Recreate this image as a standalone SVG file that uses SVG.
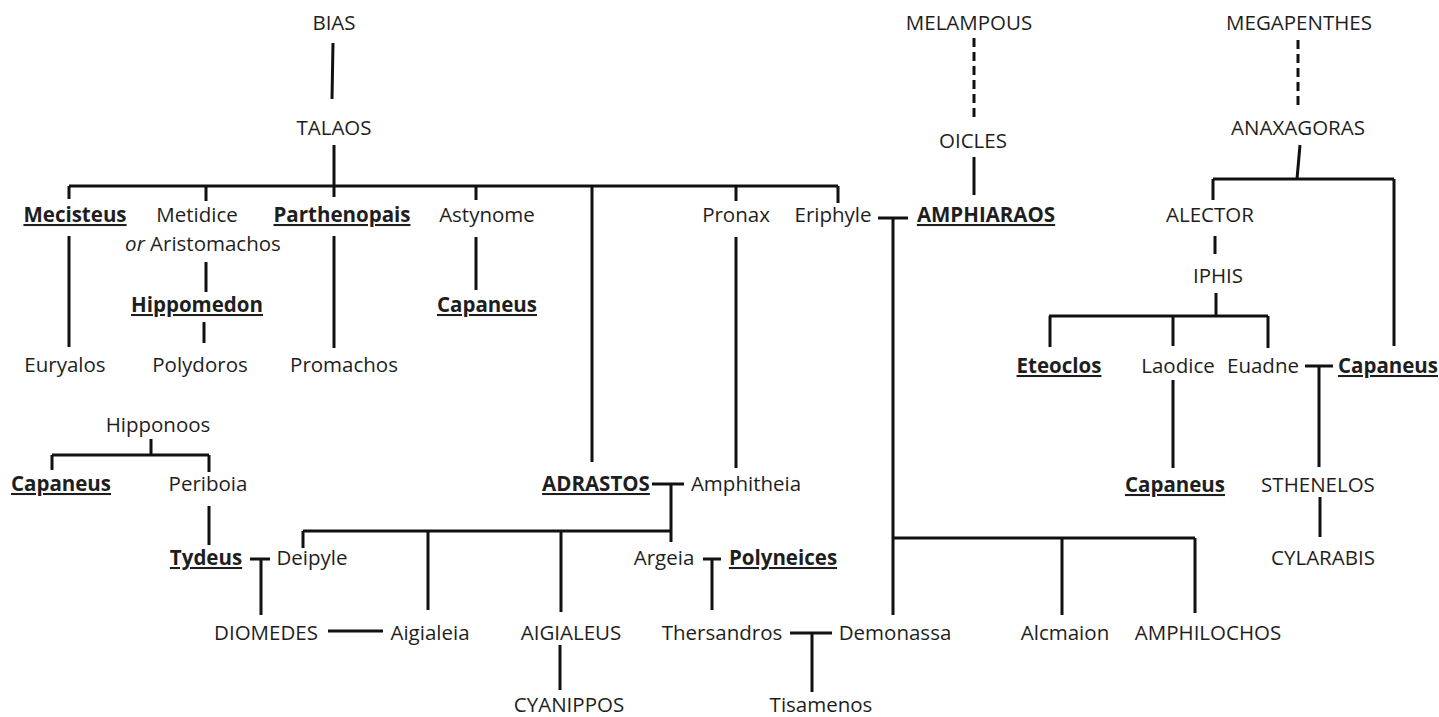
<svg xmlns="http://www.w3.org/2000/svg" width="1439" height="717" viewBox="0 0 1439 717">
<style>
text{font-family:"Open Sans","Liberation Sans",sans-serif;font-size:20.5px;fill:#1e1e1e;text-anchor:middle}
.b{font-weight:bold;text-decoration:underline}
.i{font-style:italic}
#connectors path{fill:none;stroke:#111;stroke-width:3}
#connectors path.d{stroke-dasharray:9 5}
</style>
<rect width="1439" height="717" fill="#fff"/>
<g id="connectors">
<path d="M333 43 L332 99"/>
<path d="M334 145 V197"/>
<path d="M69 186 H838"/>
<path d="M69 186 V199 M206 186 V201 M476 186 V200 M592 186 V462 M736 186 V201 M838 186 V203"/>
<path d="M69 236 V347"/>
<path d="M206 262 V292"/>
<path d="M204 322 V343"/>
<path d="M334 236 V348"/>
<path d="M476 237 V290"/>
<path d="M736 237 V468"/>
<path d="M878 218 H908 M893 218 V615 M892 538 H1195 M1062 538 V615 M1195 538 V613"/>
<path class="d" d="M974 38 V117"/>
<path d="M974 157 V195"/>
<path class="d" d="M1298 40 V105"/>
<path d="M1300 145 L1297 179 M1213 179 H1394 M1213 179 V200 M1394 179 V346"/>
<path d="M1215 236 V254"/>
<path d="M1216 293 V316 M1049 316 H1268 M1050 316 V347 M1173 316 V346 M1268 316 V348"/>
<path d="M1305 366 H1333 M1319 366 V467"/>
<path d="M1173 380 V468"/>
<path d="M1320 497 V537"/>
<path d="M151 439 V455 M52 455 H209 M52 455 V470 M209 455 V472"/>
<path d="M209 506 V545"/>
<path d="M652 484 H684 M671 484 V542 M303 531 H671 M303 531 V548 M428 531 V610 M561 531 V612"/>
<path d="M250 559 H270 M261 559 V615"/>
<path d="M328 631 H383"/>
<path d="M703 559 H721 M712 559 V610"/>
<path d="M560 645 V690"/>
<path d="M790 633 H832 M812 633 V692"/>
</g>
<g id="bias"><text x="334" y="30">BIAS</text></g>
<g id="talaos"><text x="334" y="135">TALAOS</text></g>
<g id="melampous"><text x="969" y="30">MELAMPOUS</text></g>
<g id="oicles"><text x="973" y="148">OICLES</text></g>
<g id="megapenthes"><text x="1299" y="30">MEGAPENTHES</text></g>
<g id="anaxagoras"><text x="1298" y="135">ANAXAGORAS</text></g>
<g id="mecisteus"><text class="b" x="75" y="222">Mecisteus</text></g>
<g id="metidice"><text x="197" y="222">Metidice</text><text x="203" y="251"><tspan class="i">or</tspan> Aristomachos</text></g>
<g id="parthenopais"><text class="b" x="342" y="222">Parthenopais</text></g>
<g id="astynome"><text x="487" y="222">Astynome</text></g>
<g id="pronax"><text x="736" y="222">Pronax</text></g>
<g id="eriphyle"><text x="833" y="222">Eriphyle</text></g>
<g id="amphiaraos"><text class="b" x="986" y="222">AMPHIARAOS</text></g>
<g id="alector"><text x="1210" y="222">ALECTOR</text></g>
<g id="hippomedon"><text class="b" x="197" y="312">Hippomedon</text></g>
<g id="capaneus1"><text class="b" x="487" y="312">Capaneus</text></g>
<g id="iphis"><text x="1218" y="283">IPHIS</text></g>
<g id="euryalos"><text x="65" y="372">Euryalos</text></g>
<g id="polydoros"><text x="200" y="372">Polydoros</text></g>
<g id="promachos"><text x="344" y="372">Promachos</text></g>
<g id="eteoclos"><text class="b" x="1059" y="373">Eteoclos</text></g>
<g id="laodice"><text x="1178" y="373">Laodice</text></g>
<g id="euadne"><text x="1263" y="373">Euadne</text></g>
<g id="capaneus2"><text class="b" x="1388" y="373">Capaneus</text></g>
<g id="hipponoos"><text x="158" y="432">Hipponoos</text></g>
<g id="capaneus3"><text class="b" x="61" y="491">Capaneus</text></g>
<g id="periboia"><text x="208" y="491">Periboia</text></g>
<g id="adrastos"><text class="b" x="596" y="491">ADRASTOS</text></g>
<g id="amphitheia"><text x="746" y="491">Amphitheia</text></g>
<g id="capaneus4"><text class="b" x="1175" y="492">Capaneus</text></g>
<g id="sthenelos"><text x="1318" y="492">STHENELOS</text></g>
<g id="tydeus"><text class="b" x="206" y="565">Tydeus</text></g>
<g id="deipyle"><text x="312" y="565">Deipyle</text></g>
<g id="argeia"><text x="664" y="565">Argeia</text></g>
<g id="polyneices"><text class="b" x="783" y="565">Polyneices</text></g>
<g id="cylarabis"><text x="1323" y="565">CYLARABIS</text></g>
<g id="diomedes"><text x="266" y="640">DIOMEDES</text></g>
<g id="aigialeia"><text x="430" y="640">Aigialeia</text></g>
<g id="aigialeus"><text x="571" y="640">AIGIALEUS</text></g>
<g id="thersandros"><text x="722" y="640">Thersandros</text></g>
<g id="demonassa"><text x="895" y="640">Demonassa</text></g>
<g id="alcmaion"><text x="1065" y="640">Alcmaion</text></g>
<g id="amphilochos"><text x="1208" y="640">AMPHILOCHOS</text></g>
<g id="cyanippos"><text x="569" y="712">CYANIPPOS</text></g>
<g id="tisamenos"><text x="821" y="712">Tisamenos</text></g>
</svg>
